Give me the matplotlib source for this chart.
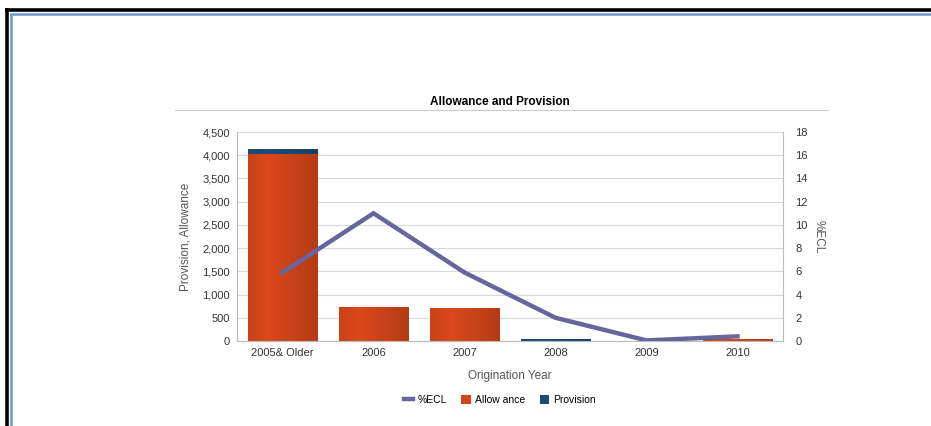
import numpy as np
import matplotlib.pyplot as plt
from matplotlib.lines import Line2D
from matplotlib.patches import Patch

plt.rcParams['font.family'] = ['Liberation Sans', 'DejaVu Sans']

years = ["2005& Older", "2006", "2007", "2008", "2009", "2010"]
allowance = [4030, 740, 710, 0, 0, 40]
provision = [110, 0, 0, 40, 0, 0]
ecl_pct = [5.9, 11.0, 5.9, 2.0, 0.05, 0.4]

left_ticks = [0, 500, 1000, 1500, 2000, 2500, 3000, 3500, 4000, 4500]
right_ticks = [0, 2, 4, 6, 8, 10, 12, 14, 16, 18]

orange = "#d4461a"
navy = "#1d4a78"
line_col = "#66669c"
grey_txt = "#555555"

fig = plt.figure(figsize=(9.31, 4.26), dpi=100)
fig.patch.set_facecolor("white")

# outer frames (black + blue)
frame = dict(transform=fig.transFigure, solid_capstyle="butt")
fig.add_artist(Line2D([6.5 / 931, 6.5 / 931], [0, 1 - 8.2 / 426], color="black", lw=2.6, **frame))
fig.add_artist(Line2D([5 / 931, 1], [1 - 9.5 / 426, 1 - 9.5 / 426], color="black", lw=2.6, **frame))
fig.add_artist(Line2D([11 / 931, 11 / 931], [0, 1 - 13.3 / 426], color="#6f97d0", lw=1.8, **frame))
fig.add_artist(Line2D([10.3 / 931, 1], [1 - 14 / 426, 1 - 14 / 426], color="#6f97d0", lw=1.8, **frame))

ax = fig.add_axes([237 / 931, 1 - 341 / 426, 546 / 931, 209 / 426])
x = np.arange(len(years))
w = 0.76

bars = ax.bar(x, allowance, width=w, color=orange, zorder=2)
pbars = ax.bar(x, provision, width=w, bottom=allowance, color=navy, zorder=2)

# horizontal shading to give bars a cylindrical look
grad = np.linspace(0, 1, 64)
shade = 0.55 + 0.45 * np.abs(grad - 0.3) / 0.7
for b, base in [(bars, orange), (pbars, navy)]:
    rgb = np.array(plt.matplotlib.colors.to_rgb(base))
    img = np.clip(rgb[None, None, :] * (1.25 - 0.4 * shade[None, :, None]), 0, 1)
    for r in b:
        if r.get_height() <= 0:
            continue
        bx, by = r.get_x(), r.get_y()
        im = ax.imshow(img, extent=[bx, bx + r.get_width(), by, by + r.get_height()],
                       aspect="auto", zorder=2.1, interpolation="bilinear")
        im.set_clip_path(r)

ax.set_xlim(-0.5, len(years) - 0.5)
ax.set_ylim(0, 4500)
ax.set_yticks(left_ticks)
ax.set_yticklabels([f"{v:,}" for v in left_ticks])
ax.set_xticks(x)
ax.set_xticklabels(years)
ax.tick_params(axis="both", length=0, labelsize=8, colors="#333333", pad=5)
ax.yaxis.grid(True, color="#d8d8d8", lw=0.8, zorder=0)
ax.set_axisbelow(True)
for s in ["top", "right"]:
    ax.spines[s].set_visible(False)
for s in ["left", "bottom"]:
    ax.spines[s].set_color("#bbbbbb")
ax.set_ylabel("Provision, Allowance", fontsize=8.5, color=grey_txt, labelpad=8)
ax.set_xlabel("Origination Year", fontsize=8.5, color=grey_txt, labelpad=9)

ax2 = ax.twinx()
ax2.plot(x, ecl_pct, color=line_col, lw=3.2, zorder=5, solid_joinstyle="miter")
ax2.set_ylim(0, 18)
ax2.set_yticks(right_ticks)
ax2.tick_params(axis="y", length=0, labelsize=8, colors="#333333", pad=9)
for s in ["top", "left", "bottom"]:
    ax2.spines[s].set_visible(False)
ax2.spines["right"].set_color("#bbbbbb")
ax2.set_ylabel("%ECL", fontsize=8.5, color=grey_txt, rotation=270, labelpad=12)

fig.text(500 / 931, 1 - 102 / 426, "Allowance and Provision", ha="center", va="center",
         fontsize=8.5, fontweight="bold")
fig.add_artist(Line2D([175 / 931, 828 / 931], [1 - 110 / 426, 1 - 110 / 426], color="#cccccc",
                      lw=0.8, transform=fig.transFigure))

handles = [Line2D([0], [0], color=line_col, lw=3.2),
           Patch(facecolor=orange), Patch(facecolor=navy)]
fig.legend(handles, ["%ECL", "Allow ance", "Provision"], loc="center",
           bbox_to_anchor=(500 / 931, 1 - 400 / 426), ncol=3, frameon=False,
           fontsize=7.5, handlelength=0.9, handleheight=1.0, handletextpad=0.4,
           columnspacing=1.4)

fig.savefig("out.png", dpi=100)
